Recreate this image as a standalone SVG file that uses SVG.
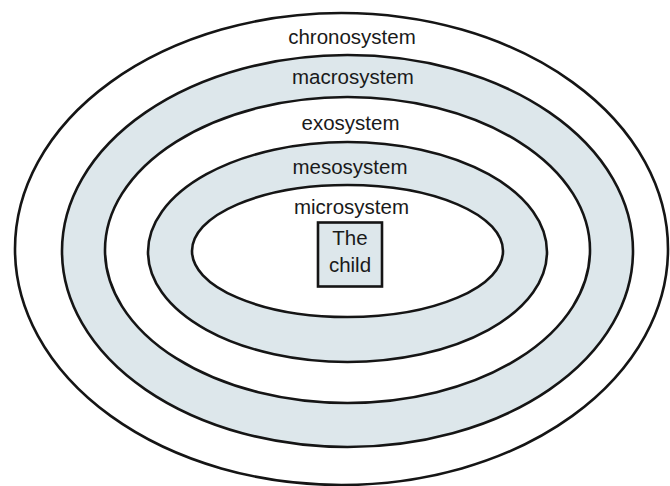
<svg xmlns="http://www.w3.org/2000/svg" width="670" height="486" viewBox="0 0 670 486">
<style>
.ring{stroke:#151515;stroke-width:2.6}
.white{fill:#ffffff}
.blue{fill:#dde7eb}
.lbl{font-family:"Liberation Sans",Arial,sans-serif;font-size:20.5px;fill:#1a1a1a;text-anchor:middle}
</style>
<rect width="670" height="486" fill="#ffffff"/>
<g id="chronosystem">
<ellipse class="ring white" cx="341.5" cy="249" rx="326.5" ry="236"/>
<text class="lbl" x="352" y="44">chronosystem</text>
</g>
<g id="macrosystem">
<ellipse class="ring blue" cx="347.5" cy="251" rx="285.5" ry="196"/>
<text class="lbl" x="353" y="84">macrosystem</text>
</g>
<g id="exosystem">
<ellipse class="ring white" cx="347.5" cy="250" rx="242.5" ry="153"/>
<text class="lbl" x="350.5" y="130">exosystem</text>
</g>
<g id="mesosystem">
<ellipse class="ring blue" cx="347.5" cy="252" rx="199.5" ry="110"/>
<text class="lbl" x="350" y="174">mesosystem</text>
</g>
<g id="microsystem">
<ellipse class="ring white" cx="347.5" cy="251" rx="155.5" ry="66"/>
<text class="lbl" x="351.5" y="214">microsystem</text>
</g>
<g id="child">
<rect x="318" y="222.5" width="64" height="64" fill="#dde7eb" stroke="#151515" stroke-width="2.6"/>
<text class="lbl" x="350" y="245">The</text>
<text class="lbl" x="350" y="272">child</text>
</g>
<g id="connectors"/>
</svg>
